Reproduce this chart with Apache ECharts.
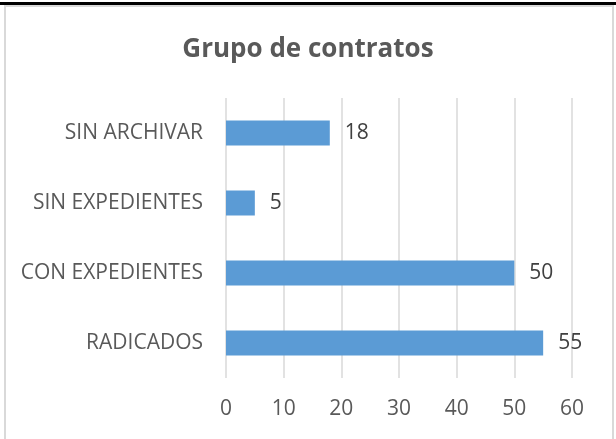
<!DOCTYPE html>
<html>
<head>
<meta charset="utf-8">
<script src="https://cdn.jsdelivr.net/npm/echarts@6/dist/echarts.min.js"></script>
<style>
  html, body { margin: 0; padding: 0; background: #fff; }
  #topline { position: absolute; left: 0; top: 2px; width: 616px; height: 3px; background: #000; }
  #frame { position: absolute; left: 4px; top: 5px; width: 606px; height: 440px; border: 2px solid #d9d9d9; border-bottom: none; }
  #main { position: absolute; left: 0; top: 0; width: 616px; height: 439px; }
</style>
</head>
<body>
<div id="topline"></div>
<div id="frame"></div>
<div id="main"></div>
<script>
    // categorías (de abajo hacia arriba)
    var categorias = ['RADICADOS', 'CON EXPEDIENTES', 'SIN EXPEDIENTES', 'SIN ARCHIVAR'];
    var valores = [55, 50, 5, 18];
    var tituloTexto = 'Grupo de contratos';

    var fuente = 'Open Sans';
    var myChart = echarts.init(document.getElementById('main'));

    var option = {
        animation: false,
        title: {
            text: tituloTexto,
            left: 'center',
            top: 32,
            textStyle: {
                fontFamily: fuente,
                fontSize: 26,
                fontWeight: 'bold',
                color: '#595959'
            }
        },
        grid: {
            left: 226,
            right: 44,
            top: 98,
            bottom: 61
        },
        xAxis: {
            type: 'value',
            min: 0,
            max: 60,
            interval: 10,
            axisLine: { show: false },
            axisTick: { show: false },
            axisLabel: {
                margin: 21,
                fontFamily: fuente,
                fontSize: 21,
                color: '#595959'
            },
            splitLine: {
                lineStyle: { color: '#d9d9d9', width: 1.5 }
            }
        },
        yAxis: {
            type: 'category',
            data: categorias,
            axisLine: { show: false },
            axisTick: { show: false },
            axisLabel: {
                margin: 23,
                fontFamily: fuente,
                fontSize: 21,
                color: '#595959'
            }
        },
        series: [{
            type: 'bar',
            data: valores,
            barWidth: 25,
            itemStyle: { color: '#5b9bd5' },
            label: {
                show: true,
                position: 'right',
                distance: 15,
                fontFamily: fuente,
                fontSize: 21,
                color: '#404040'
            }
        }]
    };

    myChart.setOption(option);
</script>
</body>
</html>
